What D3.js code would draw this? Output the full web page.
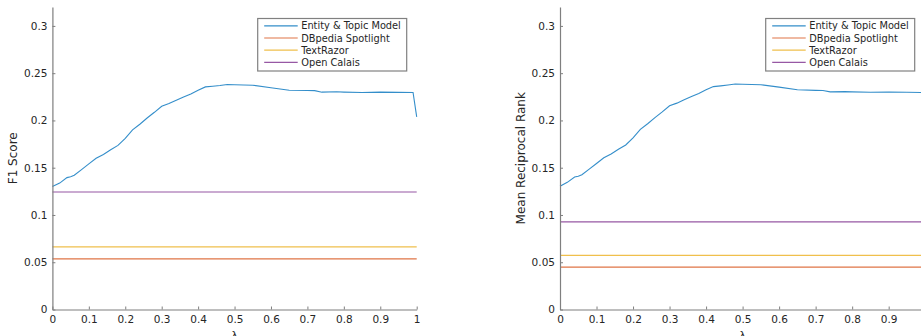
<!DOCTYPE html>
<html>
<head>
<meta charset="utf-8">
<script src="https://cdn.jsdelivr.net/npm/d3@7"></script>
<style>
  body { margin: 0; background: #fff; }
  svg text { font-family: "DejaVu Sans", sans-serif; fill: #262626; }
</style>
</head>
<body>
<svg width="921" height="336"></svg>
<script>
// lambda values
var lambdas = [0, 0.02, 0.04, 0.05, 0.06, 0.08, 0.1, 0.12, 0.14, 0.16, 0.18, 0.2, 0.22, 0.24, 0.26, 0.28, 0.3,
  0.32, 0.34, 0.36, 0.38, 0.4, 0.42, 0.44, 0.46, 0.48, 0.5, 0.55, 0.6, 0.65, 0.7, 0.72, 0.74, 0.78, 0.8,
  0.85, 0.9, 0.95, 0.99, 1.0];

// F1 score of the entity & topic model
var f1Model = [0.130, 0.1337, 0.1395, 0.1405, 0.142, 0.148, 0.154, 0.160, 0.164, 0.169, 0.1736, 0.181, 0.190,
  0.196, 0.2026, 0.2086, 0.215, 0.2178, 0.2213, 0.2248, 0.228, 0.232, 0.2355, 0.2362, 0.237, 0.238, 0.2377,
  0.2373, 0.2345, 0.232, 0.2317, 0.2315, 0.2299, 0.2303, 0.2300, 0.2296, 0.2299, 0.2297, 0.2296, 0.2037];

// MRR of the entity & topic model
var mrrModel = [0.1304, 0.1345, 0.1402, 0.1410, 0.1425, 0.1485, 0.1545, 0.1605, 0.1645, 0.1695, 0.174, 0.1815,
  0.1905, 0.1965, 0.2030, 0.2090, 0.2155, 0.2183, 0.2218, 0.2253, 0.2285, 0.2325, 0.2358, 0.2366, 0.2375,
  0.2385, 0.2383, 0.2378, 0.2352, 0.2325, 0.2318, 0.2316, 0.2302, 0.2305, 0.2302, 0.2298, 0.2300, 0.2298,
  0.2295, 0.2040];

// baselines (constant)
var baselineNames = ["DBpedia Spotlight", "TextRazor", "Open Calais"];
var f1Baselines = [0.0535, 0.0663, 0.1243];
var mrrBaselines = [0.0449, 0.0573, 0.0926];

var legendNames = ["Entity & Topic Model", "DBpedia Spotlight", "TextRazor", "Open Calais"];
var colors = ["#0072BD", "#D95319", "#EDB120", "#7E2F8E"];

var xTicks = [0, 0.1, 0.2, 0.3, 0.4, 0.5, 0.6, 0.7, 0.8, 0.9, 1];
var yTicks = [0, 0.05, 0.1, 0.15, 0.2, 0.25, 0.3];

var svg = d3.select("svg");
var plotTop = 7, plotBottom = 309.5;

var y = d3.scaleLinear().domain([0, 0.32]).range([plotBottom - plotTop, 0]);

function panel(left, plotW, yLabel, model, baselines, legendX) {
  var x = d3.scaleLinear().domain([0, 1]).range([0, plotW]);
  var g = svg.append("g").attr("transform", "translate(" + left + "," + plotTop + ")");

  // baselines first, model on top
  baselines.forEach(function(v, i) {
    g.append("line")
      .attr("x1", x(0)).attr("x2", x(1))
      .attr("y1", y(v)).attr("y2", y(v))
      .attr("stroke", colors[i + 1]).attr("stroke-width", 1.2).attr("opacity", 0.8);
  });

  var line = d3.line()
    .x(function(d, i) { return x(lambdas[i]); })
    .y(function(d) { return y(d); });

  g.append("path")
    .datum(model)
    .attr("d", line)
    .attr("fill", "none")
    .attr("stroke", colors[0]).attr("stroke-width", 1.1).attr("opacity", 0.8);

  var xa = g.append("g")
    .attr("transform", "translate(0," + (plotBottom - plotTop) + ")")
    .call(d3.axisBottom(x).tickValues(xTicks).tickFormat(d3.format("~g"))
      .tickSizeInner(-3).tickSizeOuter(0).tickPadding(6));

  var ya = g.append("g")
    .call(d3.axisLeft(y).tickValues(yTicks).tickFormat(d3.format("~g"))
      .tickSizeInner(-3).tickSizeOuter(0).tickPadding(5));

  [xa, ya].forEach(function(a) {
    a.select(".domain").attr("stroke", "#7f7f7f").attr("stroke-width", 1.2);
    a.selectAll(".tick line").attr("stroke", "#7f7f7f");
    a.selectAll("text").attr("font-size", 10.5).attr("fill", "#333");
  });

  // axis titles
  g.append("text")
    .attr("transform", "translate(" + (x(0.5)) + "," + (plotBottom - plotTop + 29) + ")")
    .attr("text-anchor", "middle")
    .attr("font-size", 11)
    .text("λ");

  g.append("text")
    .attr("transform", "translate(" + (-35) + "," + (y(0.16)) + ") rotate(-90)")
    .attr("text-anchor", "middle")
    .attr("font-size", 12)
    .text(yLabel);

  // legend
  var lg = svg.append("g").attr("transform", "translate(" + legendX + ",18.5)");
  lg.append("rect")
    .attr("width", 149).attr("height", 52.5)
    .attr("fill", "#fff").attr("stroke", "#808080").attr("stroke-width", 1.2);
  legendNames.forEach(function(n, i) {
    var yy = 7.3 + i * 12.2;
    lg.append("line")
      .attr("x1", 6.5).attr("x2", 40).attr("y1", yy).attr("y2", yy)
      .attr("stroke", colors[i]).attr("stroke-width", 1.2).attr("opacity", 0.8);
    lg.append("text")
      .attr("x", 43.5).attr("y", yy + 3.5)
      .attr("font-size", 9.8)
      .text(n);
  });
}

panel(52.4, 364.3, "F1 Score", f1Model, f1Baselines, 257.7);
panel(560, 365.2, "Mean Reciprocal Rank", mrrModel, mrrBaselines, 765.7);
</script>
</body>
</html>
